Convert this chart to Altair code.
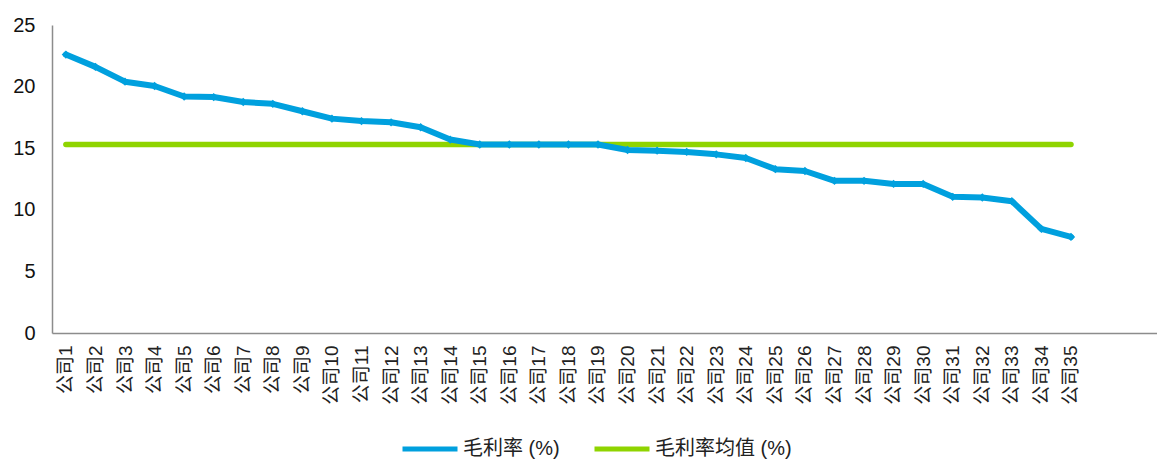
import altair as alt
import pandas as pd

companies = [f"公司{i}" for i in range(1, 36)]
idx = list(range(1, 36))
margin = [22.6, 21.6, 20.4, 20.05, 19.2, 19.15, 18.75, 18.6, 18.0, 17.4,
          17.2, 17.1, 16.7, 15.7, 15.3, 15.3, 15.3, 15.3, 15.3, 14.85,
          14.8, 14.7, 14.5, 14.2, 13.3, 13.15, 12.35, 12.35, 12.1, 12.1,
          11.05, 11.0, 10.7, 8.45, 7.8]
mean_value = 15.3
series_names = ["毛利率 (%)", "毛利率均值 (%)"]
series_colors = ["#00A0DE", "#8FD400"]
y_ticks = [0, 5, 10, 15, 20, 25]

df_line = pd.DataFrame({"idx": idx, "company": companies, "value": margin, "series": series_names[0]})
df_mean = pd.DataFrame({"idx": idx, "company": companies, "value": [mean_value] * 35, "series": series_names[1]})

FONT = "Liberation Sans, Arial, Noto Sans CJK SC"

color = alt.Color(
    "series:N",
    scale=alt.Scale(domain=series_names, range=series_colors),
    legend=alt.Legend(
        title=None, orient="none", direction="horizontal",
        legendX=348, legendY=394,
        symbolType="stroke", symbolStrokeWidth=5, symbolSize=3025,
        labelFontSize=20, labelFont=FONT, labelColor="#222222",
        labelOffset=3, columnPadding=24,
    ),
)

x = alt.X(
    "idx:Q",
    scale=alt.Scale(domain=[0.53, 37.91], nice=False, zero=False),
    axis=alt.Axis(
        title=None, values=idx, labelExpr="'公司' + datum.value",
        labelAngle=270, labelFontSize=19, labelFont=FONT, labelColor="#222222",
        ticks=False, tickSize=0, labelPadding=12, grid=False,
        domainColor="#8c8c8c", domainWidth=1.5, labelOverlap=False, labelFlush=False,
    ),
)
y = alt.Y(
    "value:Q",
    scale=alt.Scale(domain=[0, 25], nice=False),
    axis=alt.Axis(
        title=None, values=y_ticks, labelFontSize=20, labelFont=FONT, labelColor="#111111",
        ticks=False, tickSize=0, labelPadding=17, grid=False,
        domainColor="#8c8c8c", domainWidth=1.5, minExtent=44, maxExtent=44,
    ),
)

mean_layer = alt.Chart(df_mean).mark_line(strokeWidth=5.5, strokeCap="round").encode(
    x=x, y=y, color=color, detail="series:N"
)
line_layer = alt.Chart(df_line).mark_line(
    strokeWidth=6, strokeCap="round", strokeJoin="round",
    point=alt.OverlayMarkDef(shape="diamond", filled=True, size=70, color=series_colors[0]),
).encode(x=x, y=y, color=color)

chart = alt.layer(mean_layer, line_layer).properties(
    width=1105, height=308,
    padding={"left": 0, "top": 7, "right": 0, "bottom": 0},
).configure(font=FONT).configure_view(stroke=None)

chart.save("out.html", embed_options={"renderer": "svg", "actions": False})
